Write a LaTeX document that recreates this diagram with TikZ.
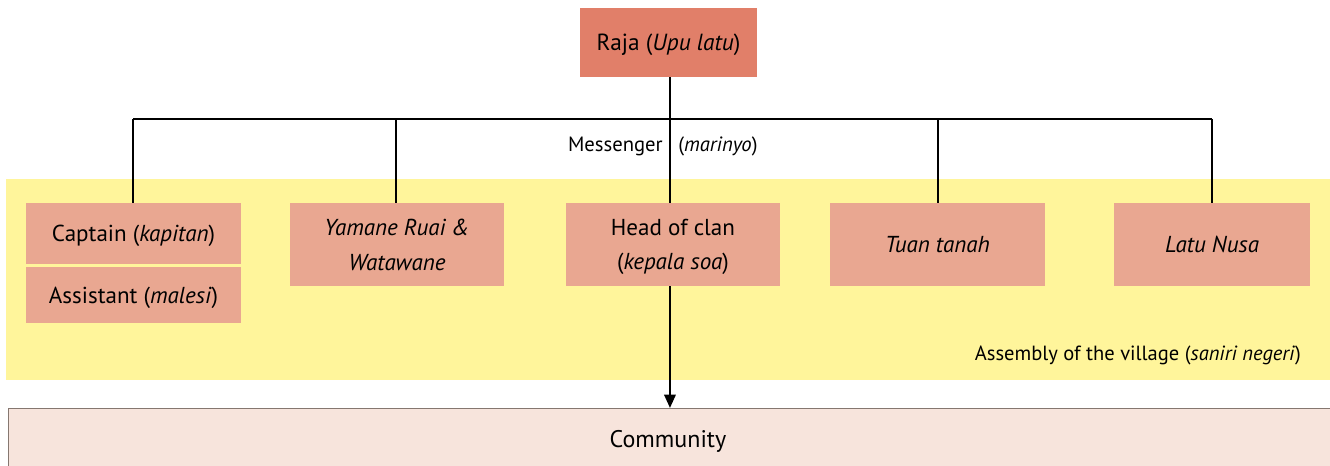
\documentclass[tikz,border=0pt]{standalone}
\usepackage{fontspec}
\setmainfont{PT Sans}
\usetikzlibrary{arrows.meta}

\definecolor{rajared}{HTML}{E17F69}
\definecolor{officer}{HTML}{E9A791}
\definecolor{saniri}{HTML}{FFF59B}
\definecolor{folk}{HTML}{F7E4DC}
\definecolor{folkline}{HTML}{857770}

\tikzset{
  office/.style={fill=officer, minimum width=161pt, minimum height=62pt, text depth=0pt, align=center, font=\fontsize{17.3}{26}\selectfont},
  link/.style={line width=1.7pt, black}
}

\begin{document}
\begin{tikzpicture}[inner sep=0mm, >={Triangle[length=10pt,width=8.5pt]}, x=0.75pt, y=-0.75pt]
  \useasboundingbox (0,0) rectangle (1330,466);
  \clip (0,0) rectangle (1330,466);

  % assembly and community
  \fill[saniri] (6,179) rectangle (1340,380);
  \node[anchor=south east, font=\fontsize{15.4}{18}\selectfont] (assembly) at (1301,365) {Assembly of the village (\textit{saniri negeri})};
  \node[draw=folkline, line width=0.6pt, fill=folk, minimum width=1000pt, minimum height=60pt, anchor=north west] (community) at (8,408) {};
  \node[font=\fontsize{18}{20}\selectfont] (folktext) at (668,441) {Community};

  % raja
  \node[fill=rajared, minimum width=133pt, minimum height=52pt, text depth=0pt, font=\fontsize{17.5}{20}\selectfont] (raja) at (668.5,42.5) {Raja (\textit{Upu latu})};

  % branches
  \draw[link] (133,119) -- (1212,119);
  \foreach \x in {133,396,938,1212} {
    \draw[link] (\x,119) -- (\x,203);
  }
  \draw[link,->] ([xshift=1.1pt]raja.south) -- ([xshift=1.1pt]raja.south |- community.north);

  \node[anchor=east, font=\fontsize{15.5}{18}\selectfont] (messenger) at (663,146) {Messenger};
  \node[anchor=west, font=\fontsize{15.5}{18}\selectfont] (marinyo) at (678,146) {(\textit{marinyo})};

  % officials
  \node[office, minimum height=46pt] (captain) at (133.5,233.5) {Captain (\textit{kapitan})};
  \node[office, minimum height=42pt] (assistant) at (133.5,295) {Assistant (\textit{malesi})};
  \node[office] (yamane) at (397,244.5) {\textit{Yamane Ruai \&}\\\textit{Watawane}};
  \node[office] (head) at (673,244.5) {Head of clan\\(\textit{kepala soa})};
  \node[office] (tuan) at (937.5,244.5) {\textit{Tuan tanah}};
  \node[office, minimum width=147pt] (latu) at (1212,244.5) {\textit{Latu Nusa}};
\end{tikzpicture}
\end{document}
